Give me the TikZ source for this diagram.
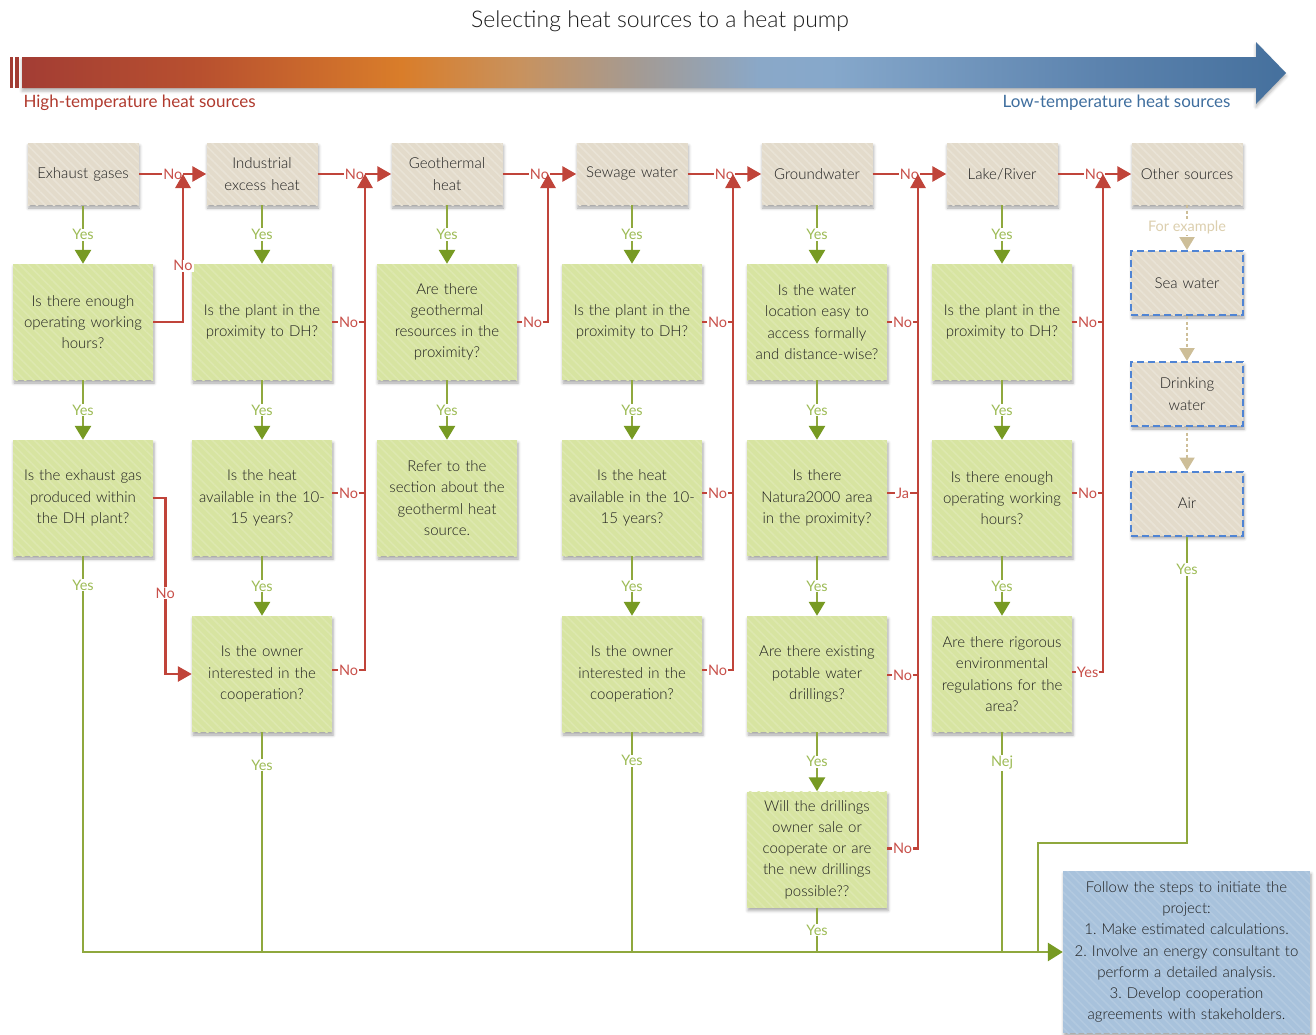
\documentclass[tikz,border=0pt]{standalone}
\usepackage{fontspec}
\IfFontExistsTF{Lato Light}{\setmainfont{Lato Light}}{\setmainfont{Lato}}
\newfontfamily\regfont{Lato}
\usetikzlibrary{arrows.meta,shadows.blur,patterns.meta,calc}
\frenchspacing
\definecolor{gfill}{HTML}{D7E4A1}
\definecolor{tfill}{HTML}{E3DBCB}
\definecolor{bfill}{HTML}{A8C2DC}
\definecolor{redl}{HTML}{C0443A}
\definecolor{redt}{HTML}{C8504A}
\definecolor{grnl}{HTML}{8FA83E}
\definecolor{grna}{HTML}{779A23}
\definecolor{grnt}{HTML}{9DBB55}
\definecolor{tanl}{HTML}{CDBE98}
\definecolor{tant}{HTML}{DCCFAE}
\definecolor{dashb}{HTML}{4F84D4}
\definecolor{txt}{HTML}{1E1E1E}
\definecolor{hred}{HTML}{B03A2E}
\definecolor{hblue}{HTML}{3F6E9E}
\definecolor{h0}{HTML}{A33D34}
\definecolor{h1}{HTML}{B8502F}
\definecolor{h2}{HTML}{D97D2A}
\definecolor{h3}{HTML}{C8925E}
\definecolor{h4}{HTML}{A39B95}
\definecolor{h5}{HTML}{8AA8C8}
\definecolor{h6}{HTML}{86A8CB}
\definecolor{h7}{HTML}{5C83AE}
\definecolor{h8}{HTML}{45709D}
\pgfdeclarehorizontalshading{heat}{100bp}{color(0bp)=(h0); color(25bp)=(h0); color(32bp)=(h1); color(40bp)=(h2); color(44.7bp)=(h3); color(49.5bp)=(h4); color(54.2bp)=(h5); color(57bp)=(h6); color(67.6bp)=(h7); color(75bp)=(h8); color(100bp)=(h8)}
\begin{document}
\begin{tikzpicture}[x=1pt,y=-1pt,
  base/.style={align=center, text=txt, inner sep=0pt, font=\fontsize{15}{21.2}\selectfont},
  shad/.style={blur shadow={shadow xshift=1pt, shadow yshift=-3pt, shadow blur radius=3pt, shadow opacity=35}},
  qbox/.style={base, shad, minimum width=140pt, minimum height=116pt, text width=138pt,
    preaction={fill=gfill}, pattern={Lines[angle=-45,distance=6pt,line width=1.6pt]}, pattern color=gfill!85!white},
  sbox/.style={base, shad, minimum width=111pt, minimum height=62pt, text width=109pt,
    preaction={fill=tfill}, pattern={Lines[angle=-45,distance=6pt,line width=1.6pt]}, pattern color=tfill!78!white},
  obox/.style={sbox, minimum width=112pt, minimum height=64pt, draw=dashb, line width=2pt, dash pattern=on 7pt off 4pt},
  fbox/.style={base, shad, minimum width=247pt, minimum height=162pt, text width=245pt,
    preaction={fill=bfill}, pattern={Lines[angle=-45,distance=6pt,line width=1.6pt]}, pattern color=bfill!88!white},
  rl/.style={draw=redl, line width=2.8pt},
  ra/.style={rl, -{Triangle[length=14pt,width=15pt]}},
  gl/.style={draw=grnl, line width=2.8pt},
  ga/.style={gl, -{Triangle[length=14pt,width=16pt,color=grna]}},
  ta/.style={draw=tanl, line width=2.2pt, dash pattern=on 3pt off 2.5pt, -{Triangle[length=13pt,width=15pt]}},
  nl/.style={fill=white, inner sep=1pt, text=redt, font=\regfont\fontsize{14.5}{15}\selectfont},
  yl/.style={fill=white, inner sep=1pt, text=grnt, font=\regfont\fontsize{14.5}{15}\selectfont},
  fl/.style={fill=white, inner sep=1pt, text=tant, font=\regfont\fontsize{14.5}{15}\selectfont}
]
\useasboundingbox (0,0) rectangle (1316,1034);

% title and banner
\node[font=\fontsize{23}{23}\selectfont, text=black!90] (title) at (660,21) {Selecting heat sources to a heat pump};
\fill[h0] (9.5,57) rectangle (12.5,88);
\fill[h0] (15,57) rectangle (19,88);
\shade[shading=heat, blur shadow={shadow xshift=0pt, shadow yshift=-3pt, shadow blur radius=3pt, shadow opacity=30}]
  (22,57) -- (1256,57) -- (1256,42) -- (1286,73) -- (1256,104) -- (1256,88) -- (22,88) -- cycle;
\node[anchor=west, text=hred, font=\regfont\fontsize{17}{17}\selectfont] (hlab) at (20,103) {High-temperature heat sources};
\node[anchor=east, text=hblue, font=\regfont\fontsize{17}{17}\selectfont] (llab) at (1234,103) {Low-temperature heat sources};

% source boxes
\node[sbox] (s1) at (83,174) {Exhaust gases};
\node[sbox] (s2) at (262,174) {Industrial\\excess heat};
\node[sbox] (s3) at (447,174) {Geothermal\\heat};
\node[sbox] (s4) at (632,174) {Sewage water};
\node[sbox] (s5) at (817,174) {Groundwater};
\node[sbox] (s6) at (1002,174) {Lake/River};
\node[sbox] (s7) at (1187,174) {Other sources};

% other sources
\node[obox] (sea) at (1187,283) {Sea water};
\node[obox] (drink) at (1187,394) {Drinking\\water};
\node[obox] (air) at (1187,503.5) {Air};

% question boxes
\node[qbox] (q11) at (83,322) {Is there enough\\operating working\\hours?};
\node[qbox] (q12) at (83,498) {Is the exhaust gas\\produced within\\the DH plant?};
\node[qbox] (q21) at (262,322) {Is the plant in the\\proximity to DH?};
\node[qbox] (q22) at (262,498) {Is the heat\\available in the 10-\\15 years?};
\node[qbox] (q23) at (262,674) {Is the owner\\interested in the\\cooperation?};
\node[qbox] (q31) at (447,322) {Are there\\geothermal\\resources in the\\proximity?};
\node[qbox] (q32) at (447,498) {Refer to the\\section about the\\geotherml heat\\source.};
\node[qbox] (q41) at (632,322) {Is the plant in the\\proximity to DH?};
\node[qbox] (q42) at (632,498) {Is the heat\\available in the 10-\\15 years?};
\node[qbox] (q43) at (632,674) {Is the owner\\interested in the\\cooperation?};
\node[qbox] (q51) at (817,322) {Is the water\\location easy to\\access formally\\and distance-wise?};
\node[qbox] (q52) at (817,498) {Is there\\Natura2000 area\\in the proximity?};
\node[qbox] (q53) at (817,674) {Are there existing\\potable water\\drillings?};
\node[qbox] (q54) at (817,849.5) {Will the drillings\\owner sale or\\cooperate or are\\the new drillings\\possible??};
\node[qbox] (q61) at (1002,322) {Is the plant in the\\proximity to DH?};
\node[qbox] (q62) at (1002,498) {Is there enough\\operating working\\hours?};
\node[qbox] (q63) at (1002,674) {Are there rigorous\\environmental\\regulations for the\\area?};

% final box
\node[fbox] (fin) at (1186.5,952) {Follow the steps to initiate the\\project:\\1. Make estimated calculations.\\2. Involve an energy consultant to\\perform a detailed analysis.\\3. Develop cooperation\\agreements with stakeholders.};

% bus coordinates
\coordinate (b1) at (183,174);
\coordinate (b2) at (365,174);
\coordinate (b3) at (548,174);
\coordinate (b4) at (733,174);
\coordinate (b5) at (918,174);
\coordinate (b6) at (1103,174);
\coordinate (a1) at (1187,843);
\coordinate (a2) at (1038,843);

% red: source to source
\draw[ra] (s1.east) -- node[nl]{No} (s2.west);
\draw[ra] (s2.east) -- node[nl]{No} (s3.west);
\draw[ra] (s3.east) -- node[nl]{No} (s4.west);
\draw[ra] (s4.east) -- node[nl]{No} (s5.west);
\draw[ra] (s5.east) -- node[nl]{No} (s6.west);
\draw[ra] (s6.east) -- node[nl]{No} (s7.west);

% red: column 1
\draw[ra] (q11.east) -| node[nl,pos=0.69]{No} (b1);
\draw[ra] (q12.east) -- ++(12,0) |- node[nl,pos=0.27]{No} (q23.west);
% column 2
\draw[rl] (q21.east) -- node[nl]{No} (q21.east -| b2);
\draw[rl] ([yshift=5pt]q22.east) -- node[nl]{No} ([yshift=5pt]q22.east -| b2);
\draw[ra] ([yshift=4pt]q23.east) -- node[nl]{No} ([yshift=4pt]q23.east -| b2) -- (b2);
% column 3
\draw[ra] (q31.east) -- node[nl]{No} (q31.east -| b3) -- (b3);
% column 4
\draw[rl] (q41.east) -- node[nl]{No} (q41.east -| b4);
\draw[rl] ([yshift=5pt]q42.east) -- node[nl]{No} ([yshift=5pt]q42.east -| b4);
\draw[ra] ([yshift=4pt]q43.east) -- node[nl]{No} ([yshift=4pt]q43.east -| b4) -- (b4);
% column 5
\draw[rl] (q51.east) -- node[nl]{No} (q51.east -| b5);
\draw[rl] ([yshift=5pt]q52.east) -- node[nl]{Ja} ([yshift=5pt]q52.east -| b5);
\draw[rl] ([yshift=-1pt]q53.east) -- node[nl]{No} ([yshift=-1pt]q53.east -| b5);
\draw[ra] ([yshift=1pt]q54.east) -- node[nl]{No} ([yshift=1pt]q54.east -| b5) -- (b5);
% column 6
\draw[rl] (q61.east) -- node[nl]{No} (q61.east -| b6);
\draw[rl] ([yshift=5pt]q62.east) -- node[nl]{No} ([yshift=5pt]q62.east -| b6);
\draw[ra] ([yshift=2pt]q63.east) -- node[nl]{Yes} ([yshift=2pt]q63.east -| b6) -- (b6);

% green: yes arrows
\draw[ga] (s1) -- node[yl]{Yes} (q11);
\draw[ga] (q11) -- node[yl]{Yes} (q12);
\draw[ga] (s2) -- node[yl]{Yes} (q21);
\draw[ga] (q21) -- node[yl]{Yes} (q22);
\draw[ga] (q22) -- node[yl]{Yes} (q23);
\draw[ga] (s3) -- node[yl]{Yes} (q31);
\draw[ga] (q31) -- node[yl]{Yes} (q32);
\draw[ga] (s4) -- node[yl]{Yes} (q41);
\draw[ga] (q41) -- node[yl]{Yes} (q42);
\draw[ga] (q42) -- node[yl]{Yes} (q43);
\draw[ga] (s5) -- node[yl]{Yes} (q51);
\draw[ga] (q51) -- node[yl]{Yes} (q52);
\draw[ga] (q52) -- node[yl]{Yes} (q53);
\draw[ga] (q53) -- node[yl]{Yes} (q54);
\draw[ga] (s6) -- node[yl]{Yes} (q61);
\draw[ga] (q61) -- node[yl]{Yes} (q62);
\draw[ga] (q62) -- node[yl]{Yes} (q63);

% green: to final box
\draw[gl] (q23.south) -- node[yl,pos=0.15]{Yes} (q23.south |- fin.west);
\draw[gl] (q43.south) -- node[yl,pos=0.13]{Yes} (q43.south |- fin.west);
\draw[gl] (q54.south) -- node[yl,pos=0.5]{Yes} (q54.south |- fin.west);
\draw[gl] (q63.south) -- node[yl,pos=0.14]{Nej} (q63.south |- fin.west);
\draw[gl] (air.south) -- node[yl,pos=0.107]{Yes} (a1) -- (a2) -- (a2 |- fin.west);
\draw[gl, -{Triangle[length=15pt,width=18pt,color=grna]}] (q12.south) -- node[yl,pos=0.073]{Yes} (q12.south |- fin.west) -- (fin.west);

% tan dashed
\draw[ta] (s7) -- node[fl]{For example} (sea);
\draw[ta] (sea) -- (drink);
\draw[ta] (drink) -- (air);
\end{tikzpicture}
\end{document}
